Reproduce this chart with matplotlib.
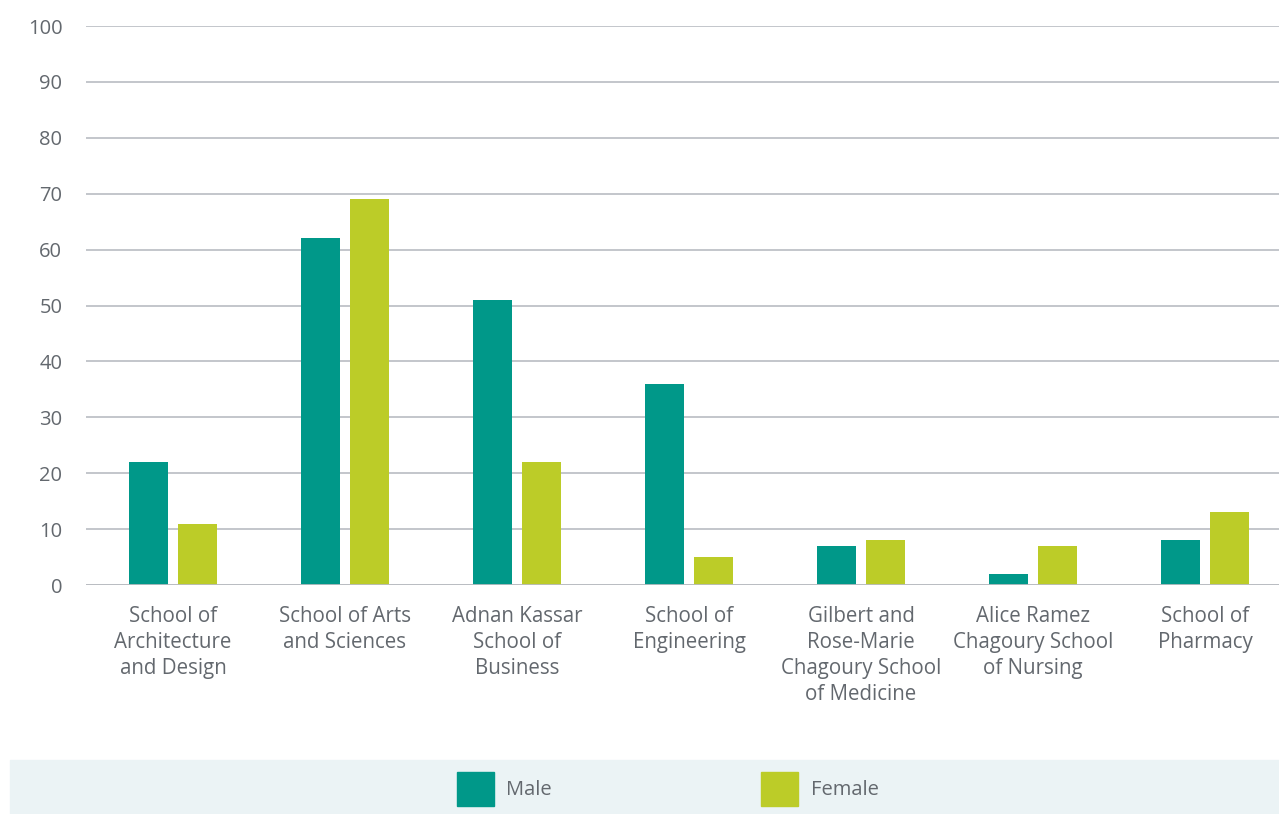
import numpy as np
import matplotlib.pyplot as plt
from matplotlib.patches import Patch, Rectangle

# data
schools = ["School of\nArchitecture\nand Design", "School of Arts\nand Sciences",
           "Adnan Kassar\nSchool of\nBusiness", "School of\nEngineering",
           "Gilbert and\nRose-Marie\nChagoury School\nof Medicine",
           "Alice Ramez\nChagoury School\nof Nursing", "School of\nPharmacy"]
male = [22, 62, 51, 36, 7, 2, 8]
female = [11, 69, 22, 5, 8, 7, 13]
series_names = ["Male", "Female"]
yticks = [0, 10, 20, 30, 40, 50, 60, 70, 80, 90, 100]

MALE_COL = "#009889"
FEMALE_COL = "#bccc28"
TXT = "#63686e"
GRID = "#c3c6cb"

plt.rcParams['font.family'] = ['Open Sans', 'DejaVu Sans']

fig = plt.figure(figsize=(12.79, 8.14), dpi=100)
ax = fig.add_axes([0.0672, 0.2813, 0.9328, 0.6867])

x = np.arange(len(schools))
w = 0.228
off = 0.143
ax.bar(x - off, male, w, color=MALE_COL, zorder=3)
ax.bar(x + off, female, w, color=FEMALE_COL, zorder=3)

ax.set_xlim(-0.506, 6.43)
ax.set_ylim(0, 100)
ax.set_yticks(yticks)
ax.set_xticks(x)
ax.set_xticklabels(schools, fontsize=14.8, color=TXT, linespacing=1.32)
ax.tick_params(axis='y', labelsize=14.5, labelcolor=TXT, length=0, pad=17)
ax.tick_params(axis='x', length=0, pad=15)
ax.grid(axis='y', color=GRID, lw=1.4, zorder=0)
for s in ax.spines.values():
    s.set_visible(False)
ax.axhline(0, color="#b9bcc1", lw=2, zorder=4)

# legend band
fig.add_artist(Rectangle((10 / 1279, 0), 1 - 10 / 1279, 54 / 814,
                         transform=fig.transFigure, color="#ebf3f5", zorder=0))
handles = [Patch(color=MALE_COL), Patch(color=FEMALE_COL)]
fig.legend(handles, series_names, loc='center', bbox_to_anchor=(0.522, 0.031),
           ncol=2, frameon=False, fontsize=14.5, handlelength=1.85, handleheight=2.25,
           handletextpad=0.6, columnspacing=10.4, labelcolor=TXT)

fig.savefig("out.png", dpi=100)
